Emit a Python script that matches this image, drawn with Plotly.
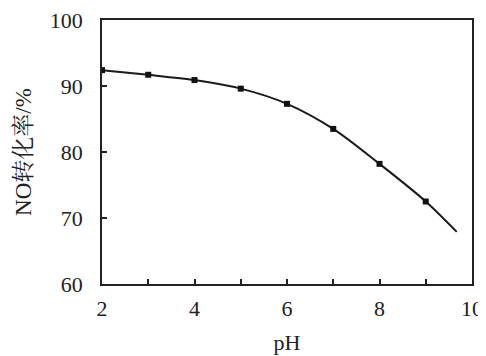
import plotly.graph_objects as go

ph = [2, 3, 4, 5, 6, 7, 8, 9]
conversion = [92.4, 91.7, 90.9, 89.6, 87.3, 83.5, 78.2, 72.5]
ph_end = 9.67
conv_end = 67.9
y_ticks = [60, 70, 80, 90, 100]
x_ticks = [2, 4, 6, 8, 10]

fig = go.Figure()
fig.add_trace(go.Scatter(
    x=ph + [ph_end], y=conversion + [conv_end], mode="lines",
    line=dict(color="#1a1a1a", width=2, shape="spline", smoothing=0.8),
    hoverinfo="skip", showlegend=False))
fig.add_trace(go.Scatter(
    x=ph, y=conversion, mode="markers",
    marker=dict(color="#111111", size=6, symbol="square"),
    showlegend=False))

font = dict(family="Liberation Serif, Times New Roman, serif", color="#222222")
# page body has an 8px default margin, so the figure is sized to fit the window
fig.update_layout(
    width=478, height=348,
    margin=dict(l=94, r=14, t=12, b=72),
    paper_bgcolor="white", plot_bgcolor="white",
    font=dict(size=20, **font),
)
fig.update_xaxes(
    automargin=False,
    range=[2, 10], tickvals=x_ticks, ticks="inside", ticklen=5,
    tickwidth=2, tickcolor="#222", showgrid=False, zeroline=False,
    showline=True, linecolor="#222", linewidth=2, mirror=True,
    minor=dict(tickvals=[3, 5, 7, 9], ticks="inside", ticklen=5, tickwidth=2, tickcolor="#222"),
    ticklabelstandoff=4, ticklabeloverflow="allow",
    title=dict(text="pH", standoff=14, font=dict(size=22)),
    tickfont=dict(size=22),
)
fig.update_yaxes(
    automargin=False,
    range=[60, 100], tickvals=y_ticks,
    ticktext=[f"{v}\u2002\u200a" for v in y_ticks],
    ticks="inside", ticklen=5,
    tickwidth=2, tickcolor="#222", showgrid=False, zeroline=False,
    showline=True, linecolor="#222", linewidth=2, mirror=True,
    ticklabeloverflow="allow",
    title=dict(text="NO转化率/%", standoff=12,
               font=dict(size=23, family="Liberation Serif, Noto Serif CJK SC, Noto Sans CJK SC, serif")),
    tickfont=dict(size=22),
)
fig.write_html("out.html")
